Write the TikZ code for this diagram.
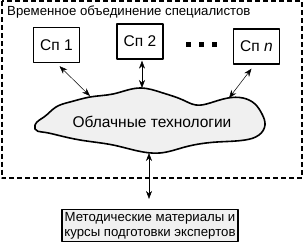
\documentclass[tikz,border=0pt]{standalone}
\usepackage{fontspec}
\setmainfont{Liberation Sans}
\usetikzlibrary{arrows.meta,hobby}

\begin{document}
\begin{tikzpicture}[x=1pt, y=-1pt, line join=round,
    spbox/.style={draw, line width=1.3pt, minimum width=46pt, minimum height=35pt, inner sep=0pt, font=\fontsize{15.5}{17}\selectfont},
    link/.style={{Stealth[length=8pt,width=6pt]}-{Stealth[length=8pt,width=6pt]}, line width=0.5pt},
    dot/.style={fill, minimum size=5pt, inner sep=0pt}]
    \useasboundingbox (0,0) rectangle (305,246);
    % рамка временного объединения
    \draw[line width=2pt, dash pattern=on 5pt off 3pt] (1.5,1.5) rectangle (302,178);
    \node[anchor=base west, inner sep=0pt, font=\fontsize{13.2}{15}\selectfont] (title) at (7,16) {Временное объединение специалистов};
    % специалисты
    \node[spbox] (sp1) at (56.5,45) {Сп 1};
    \node[spbox] (sp2) at (140,41.5) {Сп 2};
    \node[spbox] (spn) at (256.5,46.5) {Сп \textit{n}};
    \node[dot] (d1) at (188,45) {};
    \node[dot] (d2) at (201,45) {};
    \node[dot] (d3) at (214,45) {};
    % облако
    \draw[line width=1.6pt, fill=black!6, use Hobby shortcut, closed=true]
      (35,125) .. (44,117) .. (56,107) .. (70,102) .. (90,97) .. (113,94) .. (140,88)
      .. (163,93) .. (183,100) .. (196,105) .. (210,103) .. (228,98) .. (243,98)
      .. (255,104) .. (262,114) .. (265,125) .. (259,135) .. (245,140) .. (217,142)
      .. (185,147) .. (160,153) .. (138,151) .. (113,145) .. (80,140) .. (57,135)
      .. (42,132) .. (35,129);
    \node[font=\fontsize{15.5}{17}\selectfont] (cloud) at (152,122) {Облачные технологии};
    \coordinate (c1) at (90,96);
    \coordinate (c2) at (142,88);
    \coordinate (cn) at (229,98);
    \coordinate (c0) at (149,153);
    % материалы
    \node[draw, line width=1.3pt, fill=black!6, inner sep=2.5pt, align=center,
      font=\fontsize{13.2}{15}\selectfont] (mat) at (150,225.5)
      {Методические материалы и\\курсы подготовки экспертов};
    % связи
    \draw[link] ([xshift=3pt,yshift=-3pt]sp1.south) -- (c1);
    \draw[link] ([xshift=2pt,yshift=-1pt]sp2.south) -- (c2);
    \draw[link] ([xshift=-5pt,yshift=-4pt]spn.south) -- (cn);
    \draw[link] (c0) -- ([yshift=10pt]mat.north -| c0);
\end{tikzpicture}
\end{document}
